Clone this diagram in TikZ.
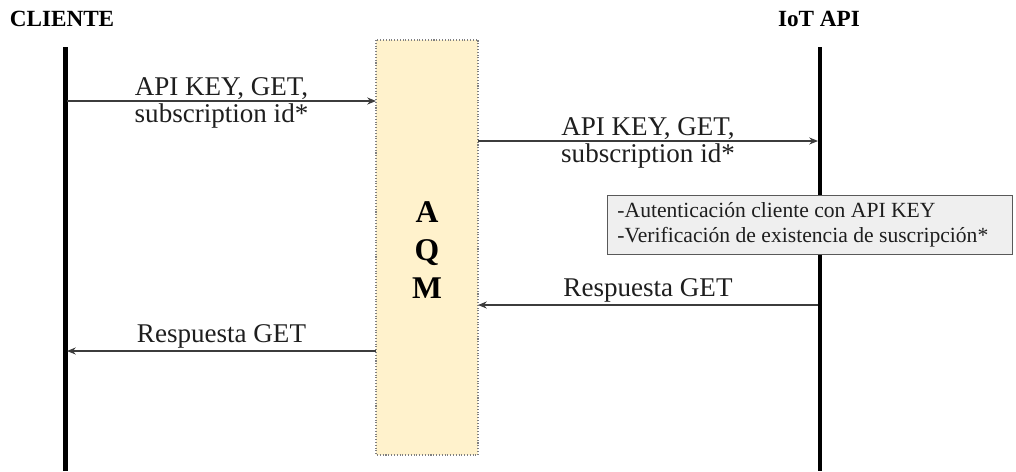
\documentclass[tikz,border=0pt]{standalone}
\usepackage{fontspec}
\setmainfont{Liberation Serif}
\usepackage{xcolor}
\usepackage{tikz}
\usetikzlibrary{positioning,arrows.meta,calc}
\definecolor{aqmbg}{RGB}{255,242,204}
\definecolor{notebg}{RGB}{239,239,239}
\definecolor{msggray}{RGB}{60,60,60}
\definecolor{labelink}{RGB}{30,30,30}

\begin{document}
\begin{tikzpicture}[x=0.02cm, y=-0.02cm,
    lifeline/.style={line width=2.3pt, black},
    actor/.style={font=\fontsize{13.2}{15}\selectfont\bfseries},
    msg/.style={msggray, line width=0.6pt, -{Stealth[length=5pt,width=4pt]}},
    msglabel/.style={text=labelink, font=\fontsize{15.4}{17}\selectfont, inner sep=1pt},
    notebox/.style={draw=black!65, fill=notebg, text=labelink, line width=0.5pt, align=flush left,
        font=\fontsize{12.3}{14.5}\selectfont, inner xsep=5.7pt, inner ysep=4pt}]
    \useasboundingbox (0,0) rectangle (1016,471);

    % Actors
    \node[actor] (cliente) at (62,19) {CLIENTE};
    \node[actor] (iotapi) at (819,19) {IoT API};

    % Lifelines
    \coordinate (clitop) at (65.5,47);
    \coordinate (clibot) at (65.5,471);
    \coordinate (apitop) at (820,47);
    \coordinate (apibot) at (820,471);
    \draw[lifeline] (clitop) -- (clibot);
    \draw[lifeline] (apitop) -- (apibot);

    % AQM box
    \draw[fill=aqmbg, draw=gray, densely dotted, line width=0.6pt] (376,40) rectangle (478,455);
    \coordinate (aqmw) at (376,0);
    \coordinate (aqme) at (478,0);
    \node[font=\fontsize{18}{21.5}\selectfont\bfseries, align=center] (aqm) at (427,250) {A\\Q\\M};

    % Messages
    \coordinate (m1) at (67,101);
    \coordinate (m2) at (818,141);
    \coordinate (m3) at (818,305);
    \coordinate (m4) at (67,351);
    \draw[msg] (m1) -- (m1 -| aqmw)
        node[msglabel, midway, above=-0.5pt] {API KEY, GET,}
        node[msglabel, midway, below=0pt] {subscription id*};
    \draw[msg] (aqme |- m2) -- (m2)
        node[msglabel, midway, above=-0.5pt] {API KEY, GET,}
        node[msglabel, midway, below=0pt] {subscription id*};
    \draw[msg] (m3) -- (aqme |- m3)
        node[msglabel, midway, above=0pt] {Respuesta GET};
    \draw[msg] (aqmw |- m4) -- (m4)
        node[msglabel, midway, above=0pt] {Respuesta GET};

    % Note on IoT API
    \node[notebox, anchor=north west, text width=385*0.02cm, minimum height=58*0.02cm] (nota) at (607,195)
        {-Autenticación cliente con API KEY\\-Verificación de existencia de suscripción*};
\end{tikzpicture}
\end{document}
